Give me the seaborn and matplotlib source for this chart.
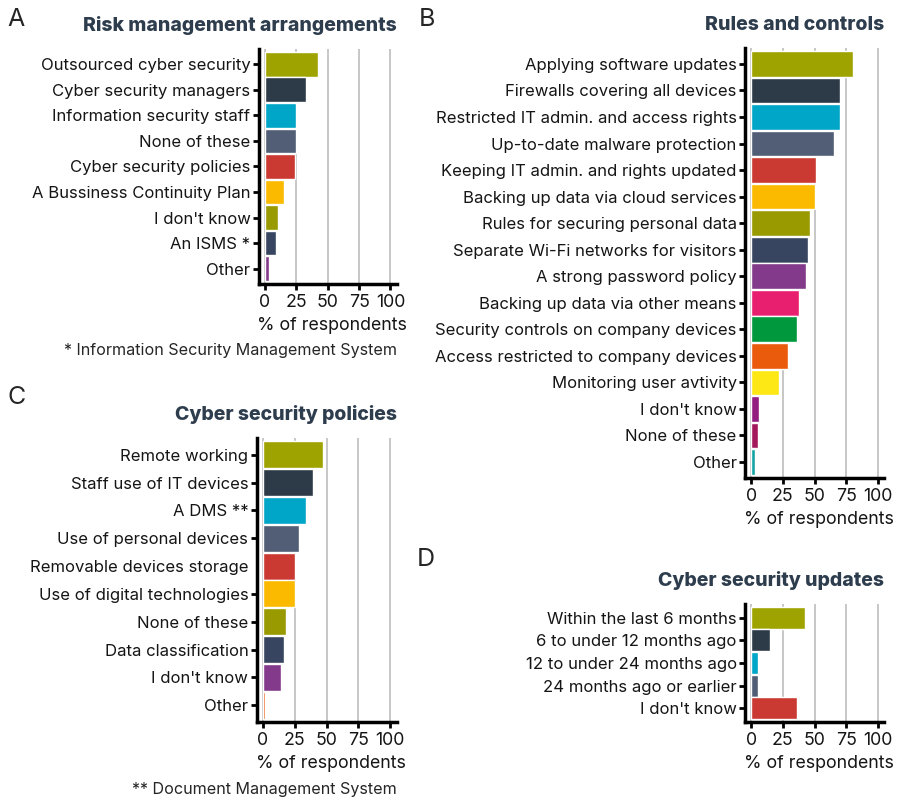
import numpy as np
import pandas as pd
import seaborn as sns
import matplotlib.pyplot as plt

# Panel A - risk management arrangements
risk_labels = ["Outsourced cyber security", "Cyber security managers", "Information security staff",
               "None of these", "Cyber security policies", "A Bussiness Continuity Plan",
               "I don't know", "An ISMS *", "Other"]
risk_values = [42, 33, 25, 24.3, 24, 15.4, 10.2, 8.9, 3]

# Panel B - rules and controls
rules_labels = ["Applying software updates", "Firewalls covering all devices",
                "Restricted IT admin. and access rights", "Up-to-date malware protection",
                "Keeping IT admin. and rights updated", "Backing up data via cloud services",
                "Rules for securing personal data", "Separate Wi-Fi networks for visitors",
                "A strong password policy", "Backing up data via other means",
                "Security controls on company devices", "Access restricted to company devices",
                "Monitoring user avtivity", "I don't know", "None of these", "Other"]
rules_values = [80.5, 70.3, 70.3, 65.6, 51.4, 50.6, 46.7, 45.1, 43.5, 38, 36.5, 29.4, 22.3, 5.8, 5, 2.6]

# Panel C - cyber security policies
policy_labels = ["Remote working", "Staff use of IT devices", "A DMS **", "Use of personal devices",
                 "Removable devices storage", "Use of digital technologies", "None of these",
                 "Data classification", "I don't know", "Other"]
policy_values = [47.4, 39.4, 33.6, 28.3, 25.1, 25, 18, 16.4, 14, 1.3]

# Panel D - cyber security updates
update_labels = ["Within the last 6 months", "6 to under 12 months ago", "12 to under 24 months ago",
                 "24 months ago or earlier", "I don't know"]
update_values = [42.5, 14.8, 5.3, 5.3, 36.1]

xticks = [0, 25, 50, 75, 100]

palette = ["#9FA300", "#2D3A48", "#00A6C8", "#525E75", "#CA3A32", "#FBBA00", "#999900", "#374560",
           "#833A8A", "#E81E6F", "#00983D", "#EA5B0C", "#FDE815", "#931E80", "#A3195B", "#14A3A4"]
policy_colors = palette[:9] + ["#EA5B0C"]

sns.set_style("white")
plt.rcParams['font.family'] = ['Inter', 'DejaVu Sans']

fig = plt.figure(figsize=(9.05, 7.99), dpi=100)


def bar_panel(rect, labels, values, colors, title):
    ax = fig.add_axes(rect)
    df = pd.DataFrame({"label": labels, "value": values})
    sns.barplot(data=df, x="value", y="label", hue="label", palette=colors[:len(labels)],
                legend=False, width=0.97, saturation=1, ax=ax)
    ax.set_xlim(-5, 105)
    ax.set_ylim(len(labels) - 0.4, -0.6)
    ax.set_xticks(xticks)
    ax.set_axisbelow(True)
    ax.grid(axis="x", color="#BDBDBD", lw=1.2)
    ax.grid(axis="y", visible=False)
    for s in ["top", "right"]:
        ax.spines[s].set_visible(False)
    for s in ["left", "bottom"]:
        ax.spines[s].set_linewidth(2.5)
        ax.spines[s].set_color("black")
    ax.tick_params(axis="both", length=4, width=2, color="black", labelsize=12.0,
                   labelcolor="#151515", pad=2, left=True, bottom=True)
    ax.tick_params(axis="x", labelsize=12.8, pad=3)
    ax.set_xlabel("% of respondents", fontsize=12.8, color="#151515")
    ax.set_ylabel("")
    ax.set_title(title, loc="right", fontsize=14, fontweight="heavy", color="#2E3D4D", pad=13)
    return ax


ax_a = bar_panel([0.2859, 0.6446, 0.1525, 0.2941], risk_labels, risk_values, palette,
                 "Risk management arrangements")
ax_b = bar_panel([0.8232, 0.4018, 0.1536, 0.5382], rules_labels, rules_values, palette,
                 "Rules and controls")
ax_c = bar_panel([0.2836, 0.0964, 0.1547, 0.3554], policy_labels, policy_values, policy_colors,
                 "Cyber security policies")
ax_d = bar_panel([0.8232, 0.0964, 0.1536, 0.1477], update_labels, update_values, palette,
                 "Cyber security updates")

# x label positions (axes fraction) tuned per panel
ax_a.xaxis.set_label_coords(0.53, -0.14)
ax_b.xaxis.set_label_coords(0.53, -0.077)
ax_c.xaxis.set_label_coords(0.53, -0.115)
ax_d.xaxis.set_label_coords(0.53, -0.28)

# no tick shown for this label in the original
ax_c.yaxis.get_major_ticks()[4].tick1line.set_visible(False)

for x, y, letter in [(0.008, 0.975, "A"), (0.463, 0.975, "B"), (0.008, 0.502, "C"), (0.461, 0.300, "D")]:
    fig.text(x, y, letter, fontsize=18, va="center", ha="left")

fig.text(0.4387, 0.561, "* Information Security Management System", fontsize=11.6, ha="right", va="center")
fig.text(0.4387, 0.0125, "** Document Management System", fontsize=11.6, ha="right", va="center")

fig.savefig("out.png", dpi=100)
